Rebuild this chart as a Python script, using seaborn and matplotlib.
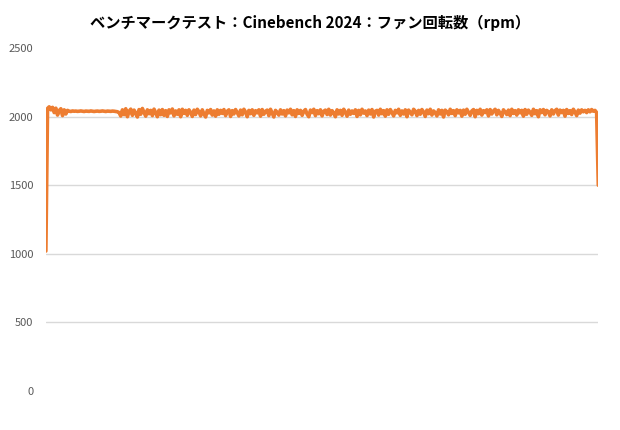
import pandas as pd
import matplotlib.pyplot as plt
import seaborn as sns

sns.set_theme(style="white")
plt.rcParams['font.family'] = ['Noto Sans CJK JP', 'DejaVu Sans']

# Valores (rpm por amostra)
rpm_startup = [1020, 2060, 2072, 2050, 2068, 2030, 2062, 2012, 2045, 2058, 2008, 2050, 2020, 2046]
rpm_settle = [2040, 2038, 2042, 2040, 2041, 2039, 2040, 2042, 2040, 2038,
              2041, 2040, 2039, 2042, 2040, 2038, 2040, 2041, 2039, 2040,
              2042, 2040, 2038, 2041, 2040, 2039, 2041, 2040, 2038, 2036, 2030]
rpm_load = [
    2005, 2050, 2015, 2058, 2000, 2040, 2055, 2010, 2048, 2025, 1998, 2052, 2018, 2060, 2030, 2004, 2050, 2022, 2046, 2008,
    2055, 2030, 2000, 2048, 2015, 2052, 2010, 2044, 2002, 2050, 2028, 2056, 2006, 2042, 2018, 2050, 2000, 2054, 2024, 2046,
    2010, 2050, 2032, 2002, 2048, 2016, 2054, 2036, 2006, 2050, 2020, 1998, 2046, 2028, 2052, 2012, 2042, 2004, 2050, 2018,
    2046, 2024, 2052, 2008, 2040, 2050, 2002, 2044, 2020, 2052, 2030, 2006, 2048, 2014, 2054, 2034, 2000, 2046, 2022, 2050,
    2010, 2044, 2028, 2050, 2004, 2052, 2018, 2040, 2048, 2008, 2054, 2026, 1998, 2046, 2032, 2012, 2050, 2020, 2044, 2006,
    2048, 2028, 2054, 2014, 2044, 2002, 2050, 2024, 2046, 2010, 2040, 2052, 2018, 2000, 2048, 2030, 2054, 2008, 2044, 2022,
    2050, 2006, 2040, 2048, 2016, 2054, 2012, 2044, 2028, 2000, 2050, 2020, 2046, 2010, 2054, 2032, 2004, 2048, 2018, 2042,
    2024, 2050, 2002, 2046, 2014, 2054, 2026, 2042, 2008, 2048, 2020, 2052, 1998, 2040, 2046, 2012, 2054, 2022, 2044, 2004,
    2050, 2018, 2052, 2030, 2006, 2046, 2028, 2054, 2010, 2042, 2020, 2050, 2000, 2048, 2032, 2014, 2054, 2040, 2008, 2046,
    2018, 2052, 2034, 2002, 2048, 2022, 2054, 2012, 2042, 2030, 2006, 2050, 2020, 2046, 1998, 2048, 2036, 2014, 2054, 2024,
    2044, 2008, 2050, 2028, 2046, 2004, 2048, 2018, 2054, 2032, 2010, 2042, 2052, 2000, 2046, 2022, 2054, 2012, 2044, 2030,
    2050, 2006, 2052, 2020, 2042, 2054, 2014, 2046, 2026, 2002, 2050, 2034, 2016, 2048, 2008, 2054, 2024, 2044, 2012, 2050,
    2028, 2046, 2004, 2052, 2018, 2048, 2032, 2010, 2054, 2022, 2044, 2000, 2050, 2030, 2052, 2014, 2046, 2036, 2006, 2050,
    2020, 2044, 2054, 2012, 2048, 2030, 2046, 2004, 2052, 2024, 2044, 2016, 2054, 2034, 2008, 2048, 2026, 2050, 2036, 2046,
    2030, 2050, 2036, 2052, 2040, 2046,
]
rpm_end = [2030, 1500]
y_ticks = [0, 500, 1000, 1500, 2000, 2500]
title = "ベンチマークテスト：Cinebench 2024：ファン回転数（rpm）"

rpm = rpm_startup + rpm_settle + rpm_load + rpm_end
df = pd.DataFrame({"sample": range(len(rpm)), "rpm": rpm})

fig = plt.figure(figsize=(6.2, 4.3), dpi=100)
ax = fig.add_axes([0.074, 0.091, 0.891, 0.797])

sns.lineplot(data=df, x="sample", y="rpm", ax=ax, color="#ED7D31", linewidth=2.6)

ax.set_xlim(df["sample"].min(), df["sample"].max())
ax.set_ylim(0, 2500)
ax.set_yticks(y_ticks)
ax.set_xticks([])
ax.set_xlabel("")
ax.set_ylabel("")
ax.tick_params(axis="y", length=0, pad=9, labelsize=8, labelcolor="#595959")

ax.yaxis.grid(True, color="#D9D9D9", linewidth=1)
ax.set_axisbelow(True)
grid = ax.get_ygridlines()
grid[0].set_visible(False)
grid[-1].set_visible(False)

for s in ax.spines.values():
    s.set_visible(False)

fig.suptitle(title, x=0.5, y=0.965, fontsize=11, fontweight="bold", color="#000000")

fig.savefig("out.png", dpi=100)
